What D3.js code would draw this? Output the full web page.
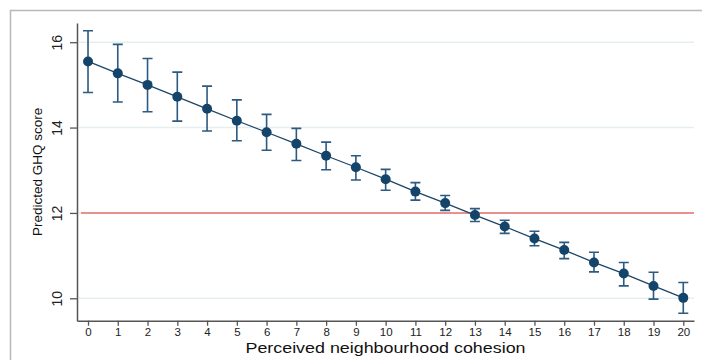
<!DOCTYPE html>
<html>
<head>
<meta charset="utf-8">
<script src="https://cdn.jsdelivr.net/npm/d3@7"></script>
<style>
  body { margin: 0; background: #fff; }
  svg { display: block; font-family: "Liberation Sans", Arial, sans-serif; }
</style>
</head>
<body>
<script>
// ---------- Data
var cohesion = d3.range(0, 21); // 0 .. 20
var predicted = [15.55, 15.27, 15.00, 14.72, 14.44, 14.16, 13.89, 13.62, 13.34, 13.07, 12.79,
                 12.50, 12.23, 11.95, 11.68, 11.40, 11.13, 10.84, 10.58, 10.29, 10.01];
var ciUpper = [16.27, 15.95, 15.62, 15.30, 14.97, 14.65, 14.31, 13.98, 13.66, 13.34, 13.02,
               12.71, 12.41, 12.10, 11.83, 11.57, 11.31, 11.08, 10.84, 10.61, 10.37];
var ciLower = [14.82, 14.60, 14.37, 14.15, 13.92, 13.69, 13.47, 13.23, 13.01, 12.77, 12.53,
               12.30, 12.06, 11.80, 11.52, 11.23, 10.93, 10.62, 10.29, 9.98, 9.65];
var yTicks = [10, 12, 14, 16];
var refLine = 12;

// ---------- Size
var w = 702;
var h = 360;

// plot region (note: "top" is a reserved window global, so prefix these)
var pLeft = 77, pRight = 694, pTop = 23, pBottom = 320.7;

// ---------- Scales
var xScale = d3.scaleLinear()
               .domain([-0.37, 20.36])
               .range([pLeft, pRight]);

var yScale = d3.scaleLinear()
               .domain([9.475, 16.45])
               .range([pBottom, pTop]);

var svg = d3.select("body")
            .append("svg")
            .attr("width", w)
            .attr("height", h);

// outer frame
svg.append("path")
   .attr("d", "M10.5," + h + "V10.5H" + w)
   .attr("fill", "none")
   .attr("stroke", "#b8b8b8")
   .attr("stroke-width", 1.5);

// grid lines
svg.selectAll("line.grid")
   .data(yTicks)
   .enter()
   .append("line")
   .attr("class", "grid")
   .attr("x1", pLeft + 2)
   .attr("x2", pRight)
   .attr("y1", function(d) { return yScale(d); })
   .attr("y2", function(d) { return yScale(d); })
   .attr("stroke", "#e6efef")
   .attr("stroke-width", 1.5);

// reference line
svg.append("line")
   .attr("x1", pLeft + 4)
   .attr("x2", pRight)
   .attr("y1", yScale(refLine))
   .attr("y2", yScale(refLine))
   .attr("stroke", "#e8706e")
   .attr("stroke-width", 1.5);

// ---------- Axes
var yAxis = d3.axisLeft(yScale)
              .tickValues(yTicks)
              .tickSize(7)
              .tickSizeOuter(0)
              .tickFormat(d3.format("d"));

var xAxis = d3.axisBottom(xScale)
              .tickValues(cohesion)
              .tickSize(5)
              .tickSizeOuter(0)
              .tickPadding(2);

var gy = svg.append("g")
            .attr("transform", "translate(" + pLeft + ",0)")
            .call(yAxis);

gy.selectAll("text")
  .attr("x", 0)
  .attr("y", 0)
  .attr("dy", "0.35em")
  .attr("text-anchor", "middle")
  .attr("transform", "translate(-20,0) rotate(-90)")
  .attr("font-size", "14px")
  .attr("fill", "#222");

var gx = svg.append("g")
            .attr("transform", "translate(0," + pBottom + ")")
            .call(xAxis);

gx.selectAll("text")
  .attr("font-size", "11.5px")
  .attr("fill", "#222");

[gx, gy].forEach(function(g) {
  g.attr("font-family", null);
  g.select(".domain").attr("stroke", "#555").attr("stroke-width", 1.5);
  g.selectAll(".tick line").attr("stroke", "#555").attr("stroke-width", 1.3);
});

// ---------- Series
var points = cohesion.map(function(d, i) {
  return { x: d, y: predicted[i], lo: ciLower[i], hi: ciUpper[i] };
});

// error bars
var bars = svg.append("g")
              .attr("stroke", "#2c5a80")
              .attr("stroke-width", 1.6)
              .attr("fill", "none");

bars.selectAll("path")
    .data(points)
    .enter()
    .append("path")
    .attr("d", function(d) {
      var x = xScale(d.x), y1 = yScale(d.hi), y2 = yScale(d.lo);
      return "M" + (x - 5) + "," + y1 + "H" + (x + 5) +
             "M" + x + "," + y1 + "V" + y2 +
             "M" + (x - 5) + "," + y2 + "H" + (x + 5);
    });

// connecting line
var line = d3.line()
             .x(function(d) { return xScale(d.x); })
             .y(function(d) { return yScale(d.y); });

svg.append("path")
   .datum(points)
   .attr("d", line)
   .attr("fill", "none")
   .attr("stroke", "#1c4566")
   .attr("stroke-width", 1.3);

// markers
svg.selectAll("circle")
   .data(points)
   .enter()
   .append("circle")
   .attr("cx", function(d) { return xScale(d.x); })
   .attr("cy", function(d) { return yScale(d.y); })
   .attr("r", 5)
   .attr("fill", "#15446b");

// ---------- Titles
svg.append("text")
   .attr("x", (pLeft + pRight) / 2)
   .attr("y", 352.5)
   .attr("text-anchor", "middle")
   .attr("font-size", "14px")
   .attr("textLength", 280)
   .attr("lengthAdjust", "spacingAndGlyphs")
   .attr("fill", "#111")
   .text("Perceived neighbourhood cohesion");

svg.append("text")
   .attr("transform", "translate(42," + ((pTop + pBottom) / 2) + ") rotate(-90)")
   .attr("text-anchor", "middle")
   .attr("font-size", "13.5px")
   .attr("fill", "#111")
   .text("Predicted GHQ score");
</script>
</body>
</html>
